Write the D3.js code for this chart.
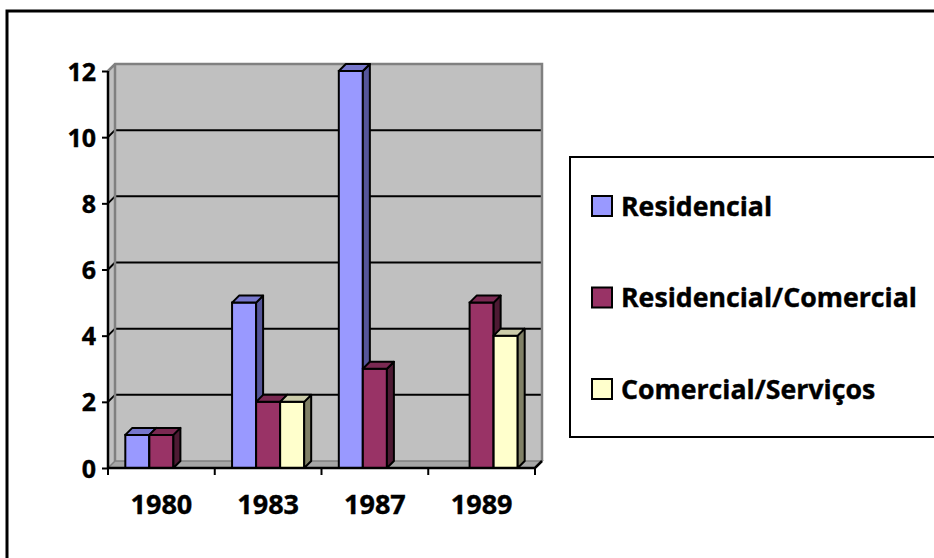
<!DOCTYPE html>
<html>
<head>
<meta charset="utf-8">
<script src="https://cdn.jsdelivr.net/npm/d3@7"></script>
<style>
  body { margin: 0; background: #fff; }
  text { font-family: "Open Sans", Lato, sans-serif; font-weight: 700; fill: #000; stroke: #000; stroke-width: 0.4px; }
</style>
</head>
<body>
<svg width="934" height="558"></svg>
<script>
// data
var anos = ["1980", "1983", "1987", "1989"];
var series = ["Residencial", "Residencial/Comercial", "Comercial/Serviços"];
var residencial = [1, 5, 12, 0];
var residencialComercial = [1, 2, 3, 5];
var comercialServicos = [0, 2, 0, 4];
var yTicks = [0, 2, 4, 6, 8, 10, 12];

var valores = [residencial, residencialComercial, comercialServicos];
var cores = ["#9999ff", "#993366", "#ffffcc"];
var coresLado = ["#555599", "#4d1a33", "#808066"];
var coresTopo = ["#7777cc", "#7a2952", "#ccccaa"];

var svg = d3.select("svg");

// diepte van het 3D effect
var dx = 7, dy = -7;

var x = d3.scaleBand().domain(anos).range([108, 535]).padding(0),
    xs = d3.scaleBand().domain(series).range([0, x.bandwidth()]).paddingInner(0).paddingOuter(0.72),
    y = d3.scaleLinear().domain([0, 12]).range([468, 71]);

var x0 = x.range()[0], x1 = x.range()[1];

// buitenrand
svg.append("rect")
    .attr("x", 7).attr("y", 11)
    .attr("width", 1200).attr("height", 1200)
    .attr("fill", "#fff").attr("stroke", "#000").attr("stroke-width", 3);

// achterwand
svg.append("rect")
    .attr("x", x0 + dx).attr("y", y(12) + dy)
    .attr("width", x1 - x0).attr("height", y(0) - y(12))
    .attr("fill", "#c0c0c0");

// zijwand
svg.append("polygon")
    .attr("points", [[x0, y(12)], [x0 + dx, y(12) + dy], [x0 + dx, y(0) + dy], [x0, y(0)]].join(" "))
    .attr("fill", "#c0c0c0");

// vloer
svg.append("polygon")
    .attr("points", [[x0, y(0)], [x0 + dx, y(0) + dy], [x1 + dx, y(0) + dy], [x1, y(0)]].join(" "))
    .attr("fill", "#a6a6a6").attr("stroke", "#808080").attr("stroke-width", 1.5);

// rasterlijnen
var grid = svg.append("g");
yTicks.filter(function (d) { return d > 0 && d < 12; }).forEach(function (d) {
    grid.append("line")
        .attr("x1", x0 + dx).attr("x2", x1 + dx)
        .attr("y1", y(d) + dy).attr("y2", y(d) + dy)
        .attr("stroke", "#000").attr("stroke-width", 2);
    grid.append("line")
        .attr("x1", x0).attr("x2", x0 + dx)
        .attr("y1", y(d)).attr("y2", y(d) + dy)
        .attr("stroke", "#000").attr("stroke-width", 2);
});

// randen van de wand
svg.append("path")
    .attr("d", "M" + x0 + "," + y(12) + "L" + (x0 + dx) + "," + (y(12) + dy) +
        "L" + (x1 + dx) + "," + (y(12) + dy) + "L" + (x1 + dx) + "," + (y(0) + dy) +
        "M" + (x0 + dx) + "," + (y(12) + dy) + "L" + (x0 + dx) + "," + (y(0) + dy))
    .attr("fill", "none").attr("stroke", "#808080").attr("stroke-width", 2.5);

// balken
var bars = [];
anos.forEach(function (ano, i) {
    series.forEach(function (s, j) {
        if (valores[j][i] > 0) bars.push({ano: ano, serie: s, j: j, v: valores[j][i]});
    });
});

var w = xs.bandwidth();
var bar = svg.selectAll(".bar")
    .data(bars)
    .enter().append("g")
    .attr("class", "bar");

bar.append("rect")
    .attr("x", function (d) { return x(d.ano) + xs(d.serie); })
    .attr("y", function (d) { return y(d.v); })
    .attr("width", w)
    .attr("height", function (d) { return y(0) - y(d.v); })
    .attr("fill", function (d) { return cores[d.j]; })
    .attr("stroke", "#000").attr("stroke-width", 2);

bar.append("polygon")
    .attr("points", function (d) {
        var bx = x(d.ano) + xs(d.serie) + w, yt = y(d.v), yb = y(0);
        return [[bx, yt], [bx + dx, yt + dy], [bx + dx, yb + dy], [bx, yb]].join(" ");
    })
    .attr("fill", function (d) { return coresLado[d.j]; })
    .attr("stroke", "#000").attr("stroke-width", 2).attr("stroke-linejoin", "round");

bar.append("polygon")
    .attr("points", function (d) {
        var bx = x(d.ano) + xs(d.serie), yt = y(d.v);
        return [[bx, yt], [bx + dx, yt + dy], [bx + w + dx, yt + dy], [bx + w, yt]].join(" ");
    })
    .attr("fill", function (d) { return coresTopo[d.j]; })
    .attr("stroke", "#000").attr("stroke-width", 2).attr("stroke-linejoin", "round");

// Y as
var yAxis = svg.append("g")
    .attr("transform", "translate(" + x0 + ",0)")
    .call(d3.axisLeft(y).tickValues(yTicks).tickSize(6).tickPadding(6).tickFormat(d3.format("d")));
yAxis.select(".domain").attr("stroke", "#000").attr("stroke-width", 2.5).attr("d", "M0," + y(12) + "V" + y(0));
yAxis.selectAll(".tick line").attr("stroke", "#000").attr("stroke-width", 2);
yAxis.selectAll(".tick text").style("font-size", "25px").attr("dy", "0.36em");

// X as
var xAxis = svg.append("g")
    .attr("transform", "translate(0," + y(0) + ")")
    .call(d3.axisBottom(x).tickSize(0).tickPadding(27));
xAxis.select(".domain").attr("stroke", "#000").attr("stroke-width", 2.5)
    .attr("d", "M" + x0 + ",0H" + x1 + "L" + (x1 + dx) + "," + dy);
xAxis.selectAll(".tick text").style("font-size", "27px").attr("dy", "0.7em");
xAxis.selectAll(".sep")
    .data(anos.map(function (a) { return x(a); }).concat([x1]))
    .enter().append("line")
    .attr("class", "sep")
    .attr("x1", function (d) { return d; }).attr("x2", function (d) { return d; })
    .attr("y1", 0).attr("y2", 7)
    .attr("stroke", "#000").attr("stroke-width", 2);

// legenda
var legend = svg.append("g");
legend.append("rect")
    .attr("x", 570).attr("y", 157)
    .attr("width", 500).attr("height", 280)
    .attr("fill", "#fff").attr("stroke", "#000").attr("stroke-width", 2);

var ly = d3.scalePoint().domain(series).range([206, 389]);
var item = legend.selectAll(".item")
    .data(series)
    .enter().append("g")
    .attr("class", "item")
    .attr("transform", function (d) { return "translate(0," + ly(d) + ")"; });
item.append("rect")
    .attr("x", 592).attr("y", -10)
    .attr("width", 20).attr("height", 20)
    .attr("fill", function (d, i) { return cores[i]; })
    .attr("stroke", "#000").attr("stroke-width", 2);
item.append("text")
    .attr("x", 621).attr("dy", "0.36em")
    .style("font-size", "26.7px")
    .text(function (d) { return d; });
</script>
</body>
</html>
